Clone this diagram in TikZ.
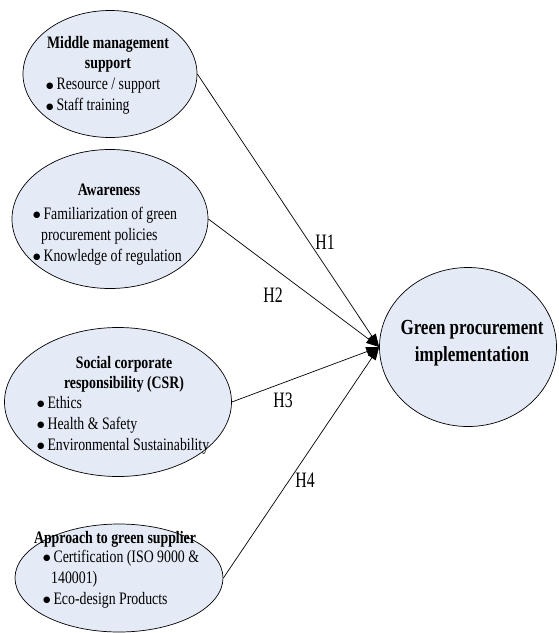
\documentclass[tikz,border=0pt]{standalone}
\usepackage{fontspec}
\setmainfont[FakeStretch=0.79]{Liberation Serif}
\newfontfamily\hfont[FakeStretch=0.72]{Liberation Serif}
\newfontfamily\symfont{DejaVu Sans}
\usepackage{tikz}
\usetikzlibrary{shapes.geometric,arrows.meta}
\definecolor{bubblefill}{RGB}{229,235,246}
\newcommand{\blt}{\raisebox{1.6pt}{\symfont\fontsize{8.5}{8.5}\selectfont ●}\,}

\begin{document}
\begin{tikzpicture}[x=1pt,y=-1pt,
    bubble/.style={ellipse, draw, line width=0.7pt, fill=bubblefill, inner sep=0pt},
    title/.style={anchor=north, align=center, inner sep=0pt, font=\fontsize{17.5}{20}\selectfont\bfseries},
    items/.style={anchor=north west, align=left, inner sep=0pt, font=\fontsize{17.5}{21}\selectfont},
    hyp/.style={line width=0.7pt, -{Triangle[length=13pt,width=9pt]}},
    hlab/.style={inner sep=0pt, font=\fontsize{22}{22}\selectfont\hfont}]
    \useasboundingbox (0,0) rectangle (558,633);
    \node[bubble, minimum width=174, minimum height=127] (mms) at (110,74) {};
    \node[bubble, minimum width=196, minimum height=139] (awr) at (110,219) {};
    \node[bubble, minimum width=227, minimum height=149] (csr) at (118,402) {};
    \node[bubble, minimum width=208, minimum height=108] (ags) at (119,578) {};
    \node[bubble, minimum width=177, minimum height=159] (gpi) at (468,347) {};
    \node[title] (mmsT) at (108,36) {Middle management\\support};
    \node[items] (mmsB) at (46,78) {\blt Resource / support\\\blt Staff training};
    \node[title] (awrT) at (109,184) {Awareness};
    \node[items] (awrB) at (33,207) {\blt Familiarization of green\\\hspace*{8pt}procurement policies\\\blt Knowledge of regulation};
    \node[title] (csrT) at (124,356) {Social corporate\\responsibility (CSR)};
    \node[items] (csrB) at (37,396) {\blt Ethics\\\blt Health \& Safety\\\blt Environmental Sustainability};
    \node[title] (agsT) at (115,531) {Approach to green supplier};
    \node[items] (agsB) at (43,550) {\blt Certification (ISO 9000 \&\\\hspace*{8pt}140001)\\\blt Eco-design Products};
    \node[title, font=\fontsize{21.5}{27}\selectfont\bfseries] (gpiT) at (472,320) {Green procurement\\implementation};
    \draw[hyp] (mms.east) -- (gpi.west);
    \draw[hyp] (awr.east) -- (gpi.west);
    \draw[hyp] (csr.east) -- (gpi.west);
    \draw[hyp] (ags.east) -- (gpi.west);
    \node[hlab] (h1) at (325,242) {H1};
    \node[hlab] (h2) at (273,295) {H2};
    \node[hlab] (h3) at (283,400) {H3};
    \node[hlab] (h4) at (305,480) {H4};
\end{tikzpicture}
\end{document}
